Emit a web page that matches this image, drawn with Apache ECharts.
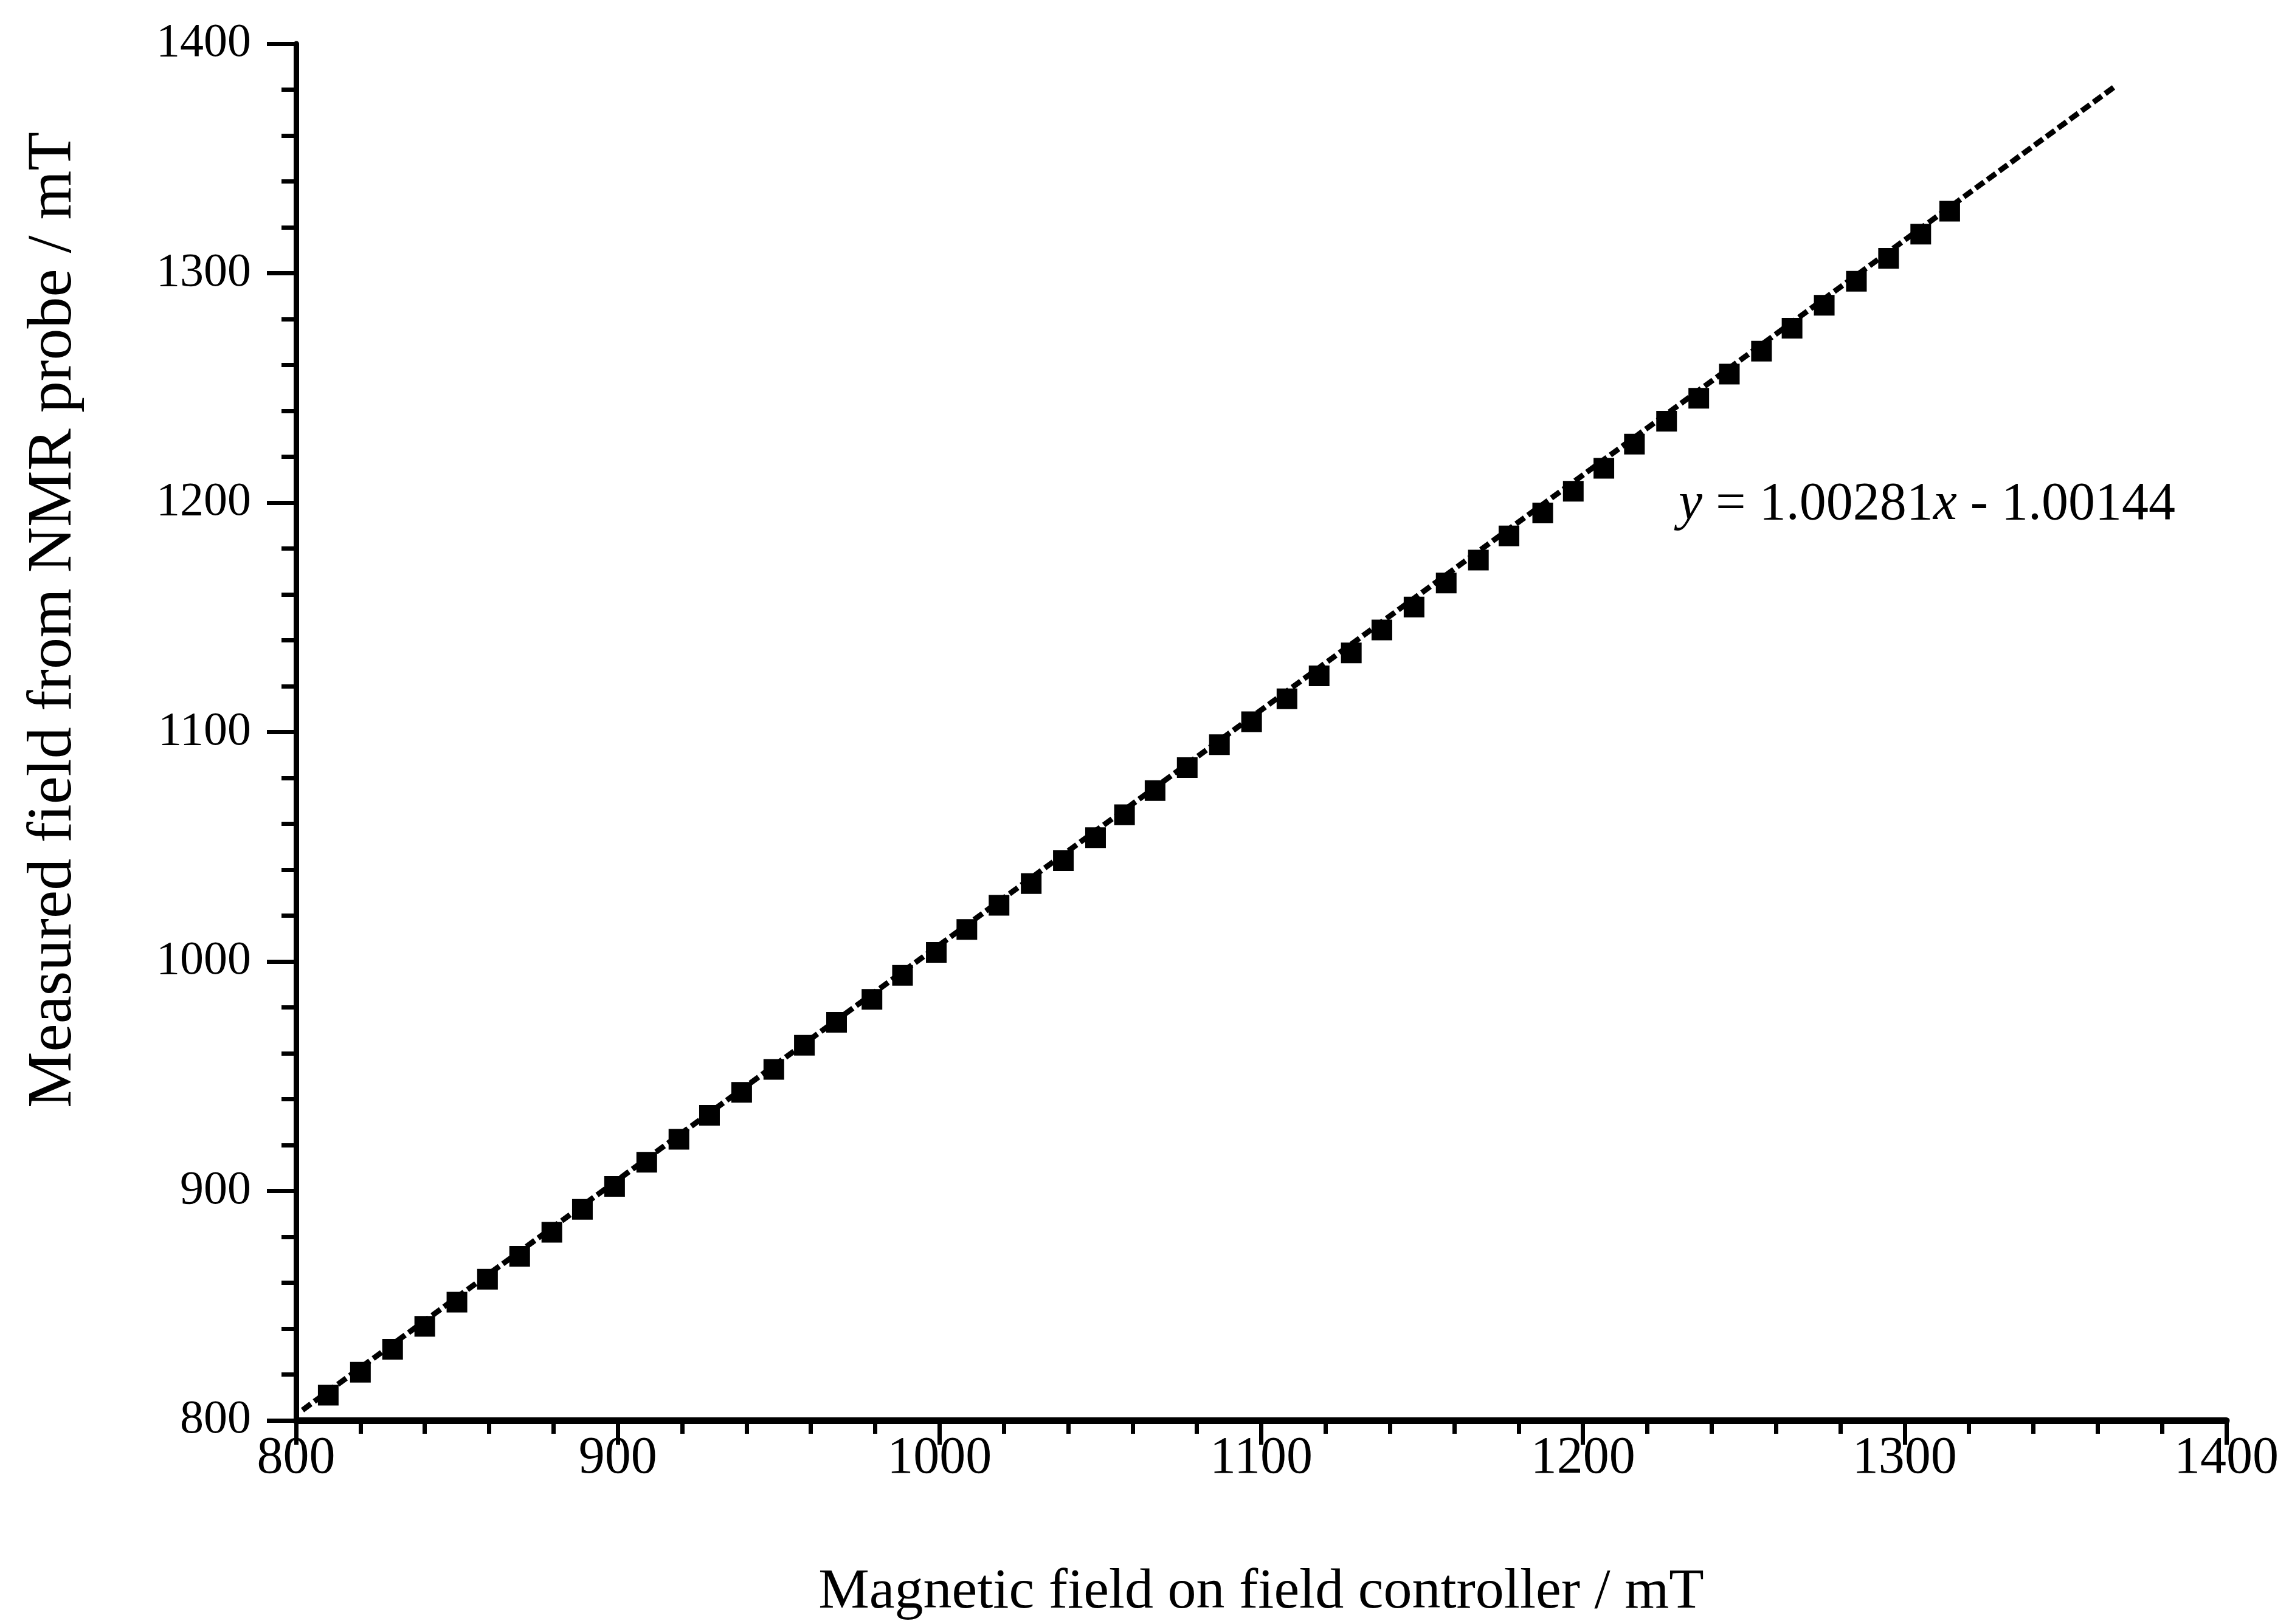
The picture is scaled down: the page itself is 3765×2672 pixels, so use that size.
<!DOCTYPE html>
<html>
<head>
<meta charset="utf-8">
<script src="https://cdn.jsdelivr.net/npm/echarts@6/dist/echarts.min.js"></script>
<style>
html,body{margin:0;padding:0;background:#fff;}
#chart{width:3765px;height:2672px;}
</style>
</head>
<body>
<div id="chart"></div>
<script>
// Measured points
var controllerField = [810, 820, 830, 840, 850, 859.5, 869.5, 879.5, 889, 899, 909, 919, 928.5, 938.5, 948.5, 958, 968, 979, 988.5, 999, 1008.5, 1018.5, 1028.5, 1038.5, 1048.5, 1057.5, 1067, 1077, 1087, 1097, 1108, 1118, 1128, 1137.5, 1147.5, 1157.5, 1167.5, 1177, 1187.5, 1197, 1206.5, 1216, 1226, 1236, 1245.5, 1255.5, 1265, 1275, 1285, 1295, 1305, 1314];
var probeField = [811, 821, 831, 841, 851.5, 861.5, 871.5, 882, 892, 902, 912.5, 922.5, 933, 943, 953, 963.5, 973.5, 983.5, 994, 1004, 1014, 1024.5, 1034, 1044, 1054, 1064, 1074.5, 1084.5, 1094.5, 1104.5, 1114.5, 1124.5, 1134.5, 1144.5, 1154.5, 1165, 1175, 1185.5, 1195.5, 1205, 1215, 1225.5, 1235.5, 1245.5, 1256, 1266, 1276, 1286, 1296.5, 1306.5, 1317, 1327];
// Fitted line end points
var fitX = [802, 1365];
var fitY = [804.5, 1381];
// Axis ticks
var xTicks = [800, 900, 1000, 1100, 1200, 1300, 1400];
var yTicks = [800, 900, 1000, 1100, 1200, 1300, 1400];
// Equation pieces: [text, italic?]
var equationParts = [['y', true], [' = 1.00281', false], ['x', true], [' - 1.00144', false]];
var xTitle = 'Magnetic field on field controller / mT';
var yTitle = 'Measured field from NMR probe / mT';

var FONT = '"Liberation Serif", "Times New Roman", serif';
var pts = controllerField.map(function (x, i) { return [x, probeField[i]]; });
var fit = fitX.map(function (x, i) { return [x, fitY[i]]; });
function plain(v) { return String(v); }

// build equation as separate text pieces, laid out with measured widths
var measureCtx = document.createElement('canvas').getContext('2d');
var eqX = 2761, eqY = 831, eqSize = 88;
var eqElements = [];
equationParts.forEach(function (p) {
  var font = (p[1] ? 'italic ' : '') + eqSize + 'px "Liberation Serif"';
  measureCtx.font = font;
  eqElements.push({
    type: 'text', x: eqX, y: eqY,
    style: {text: p[0], font: font, fill: '#000', align: 'left', verticalAlign: 'middle'}
  });
  eqX += measureCtx.measureText(p[0]).width;
});

var chart = echarts.init(document.getElementById('chart'), null, {renderer: 'canvas'});
chart.setOption({
  backgroundColor: '#fff',
  animation: false,
  grid: {left: 487, right: 103, top: 72, bottom: 335, containLabel: false},
  xAxis: {
    type: 'value',
    min: xTicks[0], max: xTicks[xTicks.length - 1], interval: 100,
    name: xTitle,
    nameLocation: 'middle',
    nameGap: 236,
    nameTextStyle: {fontFamily: FONT, fontSize: 94, color: '#000'},
    axisLine: {show: true, onZero: false, lineStyle: {color: '#000', width: 11}},
    axisTick: {show: true, inside: false, length: 40, lineStyle: {color: '#000', width: 7}},
    minorTick: {show: true, splitNumber: 5, length: 22, lineStyle: {color: '#000', width: 7}},
    axisLabel: {fontFamily: FONT, fontSize: 86, color: '#000', margin: 20, formatter: plain},
    splitLine: {show: false}
  },
  yAxis: {
    type: 'value',
    min: yTicks[0], max: yTicks[yTicks.length - 1], interval: 100,
    axisLine: {show: true, onZero: false, lineStyle: {color: '#000', width: 9}},
    axisTick: {show: true, inside: false, length: 48, lineStyle: {color: '#000', width: 7}},
    minorTick: {show: true, splitNumber: 5, length: 24, lineStyle: {color: '#000', width: 7}},
    axisLabel: {fontFamily: FONT, fontSize: 78, color: '#000', margin: 74, formatter: plain},
    splitLine: {show: false}
  },
  series: [
    {
      type: 'line',
      data: fit,
      symbol: 'none',
      lineStyle: {color: '#000', width: 9, type: [17, 7]},
      z: 1,
      silent: true
    },
    {
      type: 'scatter',
      data: pts,
      symbol: 'rect',
      symbolSize: 34,
      itemStyle: {color: '#000', opacity: 1},
      z: 2
    }
  ],
  graphic: [
    {
      type: 'text',
      x: 89, y: 1020,
      rotation: Math.PI / 2,
      style: {
        text: yTitle,
        font: '104px "Liberation Serif"',
        fill: '#000', align: 'center', verticalAlign: 'middle'
      }
    }
  ].concat(eqElements)
});
</script>
</body>
</html>
